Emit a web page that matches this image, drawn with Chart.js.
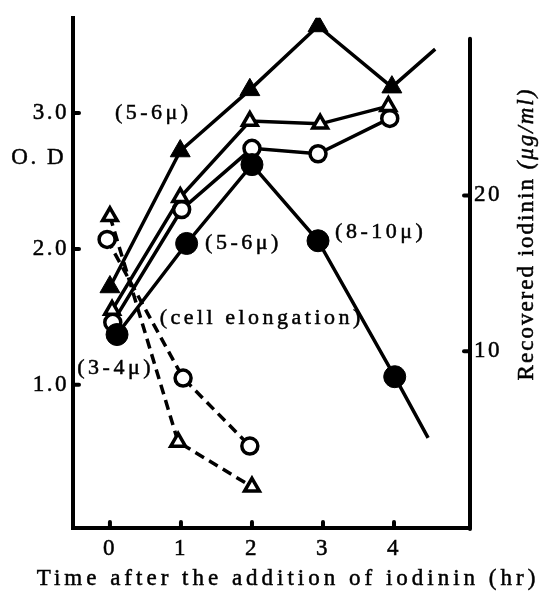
<!DOCTYPE html>
<html><head><meta charset="utf-8">
<script src="https://cdn.jsdelivr.net/npm/chart.js@4.4.0/dist/chart.umd.min.js"></script>
<style>html,body{margin:0;padding:0;background:#fff}#wrap{width:552px;height:594px;position:relative}</style>
</head><body><div id="wrap"><canvas id="c" width="552" height="594"></canvas></div>
<script>
// ---- data ----
const xTickValues = [0, 1, 2, 3, 4];
const xTickLabels = ['0', '1', '2', '3', '4'];
const odTicks = [1.0, 2.0, 3.0];
const iodininTicks = [10, 20];

// filled triangles (5-6 µ), line continues past 4 h
const filledTriX = [0, 0.99, 1.97, 2.93, 3.97, 4.58];
const filledTriY = [1.72, 2.72, 3.17, 3.64, 3.19, 3.47];
// open triangles, solid line
const openTriX = [0.03, 0.99, 1.97, 2.96, 3.92];
const openTriY = [1.55, 2.38, 2.94, 2.92, 3.05];
// open circles, solid line
const openCircX = [0.04, 1.01, 2.0, 2.93, 3.94];
const openCircY = [1.46, 2.29, 2.74, 2.70, 2.96];
// filled circles (3-4 µ -> 5-6 µ -> 8-10 µ), line continues past 4 h
const filledCircX = [0.1, 1.08, 2.0, 2.93, 4.01, 4.48];
const filledCircY = [1.37, 2.04, 2.62, 2.06, 1.06, 0.61];
// open triangles, dashed line
const dashTriX = [0, 0.96, 2.0];
const dashTriY = [2.24, 0.58, 0.25];
// open circles, dashed line
const dashCircX = [-0.04, 1.03, 1.97];
const dashCircY = [2.07, 1.05, 0.55];

const noteTexts = ['(5-6\u03bc)', '(5-6\u03bc)', '(8-10\u03bc)', '(cell elongation)', '(3-4\u03bc)'];
const xTitle = 'Time after the addition of iodinin (hr)';

// ---- layout / style ----
const notePos = [[0.07, 3.0], [1.34, 2.04], [3.17, 2.12], [0.70, 1.49], [-0.46, 1.12]];
const SERIF = '"Liberation Serif", "DejaVu Serif", serif';
const pts = (xs, ys) => xs.map((x, i) => ({x: x, y: ys[i]}));

function inkText(ctx, t, x, y) { ctx.fillText(t, x, y); ctx.strokeText(t, x, y); }

const inkPlugin = {
  id: 'ink',
  beforeUpdate(chart) { chart.ctx.letterSpacing = '2.5px'; },
  beforeLayout(chart) { chart.ctx.letterSpacing = '2.5px'; },
  beforeDraw(chart) { chart.ctx.letterSpacing = '2.5px'; },
  afterDraw(chart) {
    const ctx = chart.ctx, ca = chart.chartArea;
    const sx = chart.scales.x, sy = chart.scales.y, sy2 = chart.scales.y2;
    ctx.save();
    ctx.strokeStyle = '#000'; ctx.fillStyle = '#000';
    // right axis line
    ctx.lineWidth = 4; ctx.lineCap = 'round';
    ctx.beginPath(); ctx.moveTo(ca.right, ca.top + 21); ctx.lineTo(ca.right, ca.bottom + 1); ctx.stroke();
    // inward tick marks
    xTickValues.forEach(v => { const p = sx.getPixelForValue(v); ctx.beginPath(); ctx.moveTo(p, ca.bottom); ctx.lineTo(p, ca.bottom - 6); ctx.stroke(); });
    odTicks.forEach(v => { const p = sy.getPixelForValue(v); ctx.beginPath(); ctx.moveTo(ca.left, p); ctx.lineTo(ca.left + 6, p); ctx.stroke(); });
    iodininTicks.forEach(v => { const p = sy2.getPixelForValue(v); ctx.beginPath(); ctx.moveTo(ca.right, p); ctx.lineTo(ca.right - 6, p); ctx.stroke(); });
    // text
    ctx.lineWidth = 0.5; ctx.lineCap = 'butt';
    ctx.textBaseline = 'middle'; ctx.textAlign = 'left';
    ctx.font = '22px ' + SERIF; ctx.letterSpacing = '3.5px';
    noteTexts.forEach((t, i) => {
      inkText(ctx, t, sx.getPixelForValue(notePos[i][0]), sy.getPixelForValue(notePos[i][1]));
    });
    // x axis title
    ctx.font = '23px ' + SERIF; ctx.letterSpacing = '4px'; ctx.textAlign = 'center';
    inkText(ctx, xTitle, 288, 579);
    // O. D label
    ctx.font = '23px ' + SERIF; ctx.letterSpacing = '2.5px'; ctx.textAlign = 'right';
    inkText(ctx, 'O. D', 66, 158);
    // right axis title (reads bottom to top)
    ctx.translate(527, 234); ctx.rotate(-Math.PI / 2);
    ctx.letterSpacing = '2px'; ctx.textAlign = 'left';
    const t1 = 'Recovered iodinin ', t2 = '(\u03bcg/ml)';
    ctx.font = '23px ' + SERIF; const w1 = ctx.measureText(t1).width;
    ctx.font = 'italic 23px ' + SERIF; const w2 = ctx.measureText(t2).width;
    const start = -(w1 + w2) / 2;
    ctx.font = '23px ' + SERIF; inkText(ctx, t1, start, 0);
    ctx.font = 'italic 23px ' + SERIF; inkText(ctx, t2, start + w1, 0);
    ctx.restore();
  }
};

const tickFont = {family: SERIF, size: 23};
const solid = {borderColor: '#000', borderWidth: 3.5, fill: false, tension: 0};
new Chart(document.getElementById('c'), {
  type: 'line',
  data: {
    datasets: [
      Object.assign({label: 'filled triangle', data: pts(filledTriX, filledTriY), pointStyle: 'triangle',
        pointRadius: c => c.dataIndex < 5 ? 11.5 : 0, pointBackgroundColor: '#000', pointBorderColor: '#000', pointBorderWidth: 1}, solid),
      Object.assign({label: 'filled circle', data: pts(filledCircX, filledCircY), pointStyle: 'circle',
        pointRadius: c => c.dataIndex < 5 ? 11 : 0, pointBackgroundColor: '#000', pointBorderColor: '#000', pointBorderWidth: 1}, solid),
      Object.assign({label: 'open triangle', data: pts(openTriX, openTriY), pointStyle: 'triangle',
        pointRadius: 8.5, pointBackgroundColor: '#fff', pointBorderColor: '#000', pointBorderWidth: 3.5}, solid),
      Object.assign({label: 'open circle', data: pts(openCircX, openCircY), pointStyle: 'circle',
        pointRadius: 8, pointBackgroundColor: '#fff', pointBorderColor: '#000', pointBorderWidth: 3.5}, solid),
      Object.assign({label: 'open triangle dashed', data: pts(dashTriX, dashTriY), pointStyle: 'triangle', borderDash: [10, 6],
        pointRadius: 8.5, pointBackgroundColor: '#fff', pointBorderColor: '#000', pointBorderWidth: 3.5}, solid),
      Object.assign({label: 'open circle dashed', data: pts(dashCircX, dashCircY), pointStyle: 'circle', borderDash: [10, 6],
        pointRadius: 8, pointBackgroundColor: '#fff', pointBorderColor: '#000', pointBorderWidth: 3.5}, solid)
    ]
  },
  options: {
    responsive: false, devicePixelRatio: 1, animation: false,
    layout: {padding: {top: 14, left: 0, right: 0, bottom: 0}},
    plugins: {legend: {display: false}, tooltip: {enabled: false}},
    scales: {
      x: {
        type: 'linear', min: -0.52, max: 5.07,
        afterBuildTicks: s => { s.ticks = xTickValues.map(v => ({value: v})); },
        afterFit: s => { s.height = 66; },
        grid: {display: false, drawTicks: false},
        border: {display: true, width: 4, color: '#000'},
        ticks: {color: '#000', padding: 7, maxRotation: 0, autoSkip: false, font: tickFont,
          textStrokeColor: '#000', textStrokeWidth: 0.5,
          callback: (v) => { const i = xTickValues.indexOf(v); return i >= 0 ? xTickLabels[i] : ''; }},
        title: {display: false}
      },
      y: {
        type: 'linear', position: 'left', min: -0.053, max: 3.70,
        afterBuildTicks: s => { s.ticks = odTicks.map(v => ({value: v})); },
        afterFit: s => { s.width = 73; },
        grid: {display: false, drawTicks: false},
        border: {display: true, width: 4, color: '#000'},
        ticks: {color: '#000', padding: 4, autoSkip: false, font: tickFont,
          textStrokeColor: '#000', textStrokeWidth: 0.5,
          callback: v => Number(v).toFixed(1)}
      },
      y2: {
        type: 'linear', position: 'right', min: -1.34, max: 31.4,
        afterBuildTicks: s => { s.ticks = iodininTicks.map(v => ({value: v})); },
        afterFit: s => { s.width = 82; },
        grid: {display: false, drawTicks: false},
        border: {display: false},
        ticks: {color: '#000', padding: 4, autoSkip: false, font: tickFont,
          textStrokeColor: '#000', textStrokeWidth: 0.5,
          callback: v => String(v)}
      }
    }
  },
  plugins: [inkPlugin]
});
</script>
</body></html>
